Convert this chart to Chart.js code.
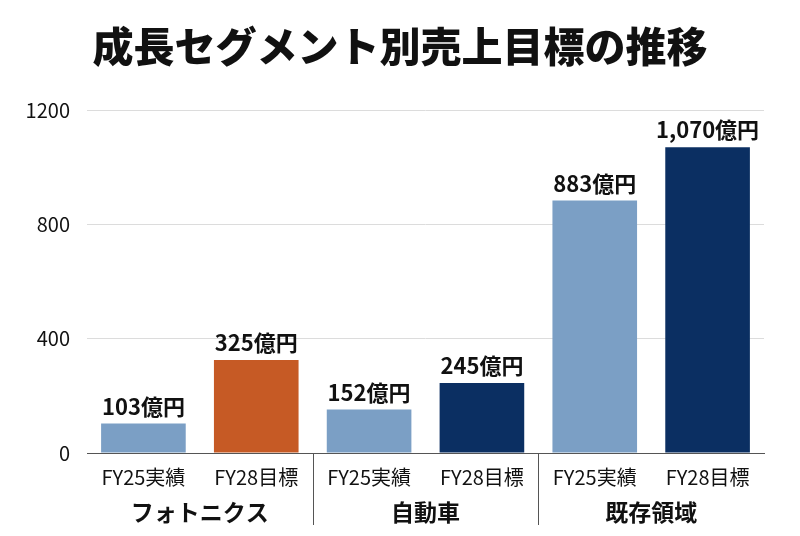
<!DOCTYPE html>
<html><head><meta charset="utf-8">
<script src="https://cdn.jsdelivr.net/npm/chart.js@4.4.0/dist/chart.umd.min.js"></script>
<style>html,body{margin:0;padding:0;background:#fff}#wrap{width:800px;height:536px}</style>
</head><body><div id="wrap"><canvas id="c" width="800" height="536"></canvas></div>
<script>
const titleText = '成長セグメント別売上目標の推移';
const categories = ['FY25実績','FY28目標','FY25実績','FY28目標','FY25実績','FY28目標'];
const groups = ['フォトニクス','自動車','既存領域'];
const values = [103, 325, 152, 245, 883, 1070];
const valueLabels = ['103億円','325億円','152億円','245億円','883億円','1,070億円'];
const yTicks = [0, 400, 800, 1200];
const barColors = ['#7b9fc5','#c65a25','#7b9fc5','#0b2f62','#7b9fc5','#0b2f62'];
const FONT = "'Noto Sans CJK JP','Noto Sans',sans-serif";

const extras = {
  id: 'extras',
  afterDraw(chart) {
    const ctx = chart.ctx, xs = chart.scales.x, area = chart.chartArea;
    ctx.save();
    ctx.fillStyle = '#111';
    ctx.font = "900 41px " + FONT;
    ctx.textAlign = 'center'; ctx.textBaseline = 'middle';
    ctx.fillText(titleText, 400, 46);
    const meta = chart.getDatasetMeta(0);
    ctx.font = "bold 22px " + FONT;
    ctx.textBaseline = 'alphabetic';
    meta.data.forEach((bar, i) => {
      ctx.fillText(valueLabels[i], bar.x, bar.y - 9);
    });
    ctx.strokeStyle = '#555'; ctx.lineWidth = 1;
    const step = (area.right - area.left) / categories.length;
    for (let g = 1; g < groups.length; g++) {
      const x = Math.round(area.left + step * 2 * g) + 0.5;
      ctx.beginPath(); ctx.moveTo(x, area.bottom); ctx.lineTo(x, area.bottom + 72); ctx.stroke();
    }
    ctx.font = "bold 23px " + FONT;
    ctx.textBaseline = 'middle';
    groups.forEach((g, i) => {
      const cx = (xs.getPixelForValue(i*2) + xs.getPixelForValue(i*2+1)) / 2;
      ctx.fillText(g, cx, 512);
    });
    ctx.restore();
  }
};

new Chart(document.getElementById('c'), {
  type: 'bar',
  data: { labels: categories, datasets: [{ data: values, backgroundColor: barColors, categoryPercentage: 1, barPercentage: 0.75 }] },
  options: {
    responsive: false, animation: false, devicePixelRatio: 1,
    layout: { padding: { top: 110, right: 36, left: 0, bottom: 0 } },
    plugins: { legend: { display: false }, tooltip: { enabled: false } },
    scales: {
      x: {
        grid: { display: false },
        border: { display: true, color: '#555', width: 1 },
        ticks: { color: '#111', font: { family: FONT, size: 20 }, padding: 4 },
        afterFit(s) { s.height = 83; }
      },
      y: {
        min: 0, max: 1200,
        afterBuildTicks(s) { s.ticks = yTicks.map(v => ({ value: v })); },
        grid: { color: ctx => ctx.tick && ctx.tick.value === 0 ? 'rgba(0,0,0,0)' : '#dcdcdc', drawTicks: false },
        border: { display: false },
        ticks: { color: '#111', font: { family: FONT, size: 20 }, padding: 17, callback: v => String(v) },
        afterFit(s) { s.width = 87; }
      }
    }
  },
  plugins: [extras]
});
</script></body></html>
